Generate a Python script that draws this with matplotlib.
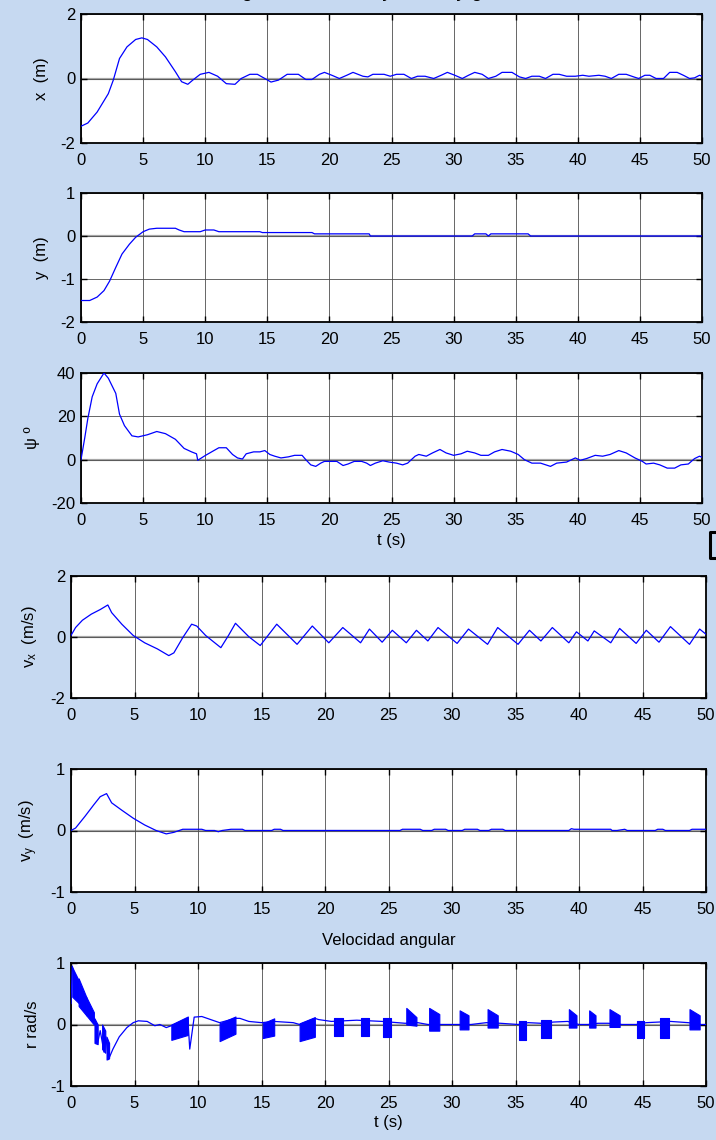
import matplotlib
matplotlib.use("Agg")
import matplotlib.pyplot as plt
from matplotlib.lines import Line2D

plt.rcParams['font.family'] = ['Liberation Sans', 'DejaVu Sans']
plt.rcParams['font.size'] = 11
plt.rcParams['axes.unicode_minus'] = False

# ---- data ----
# x (m)
x_t = [0, 0.55, 1.3, 2.2, 2.6, 3.1, 3.7, 4.4, 4.9, 5.35, 6.1, 6.8, 7.6, 8.1, 8.6, 9.0, 9.6,
       10.3, 11.0, 11.7, 12.4, 12.9, 13.6, 14.2, 14.8, 15.3, 15.9, 16.6, 17.5, 18.1, 18.6,
       19.2, 19.6, 20.2, 20.8, 21.4, 21.9, 22.7, 23.1, 23.5, 24.4, 24.9, 25.4, 26.0, 26.6,
       27.1, 27.7, 28.4, 29.0, 29.5, 30.1, 30.7, 31.2, 31.7, 32.3, 32.8, 33.4, 33.9, 34.7,
       35.3, 35.8, 36.3, 36.9, 37.4, 38.0, 38.5, 39.1, 39.8, 40.4, 40.9, 41.7, 42.2, 42.7,
       43.3, 43.9, 44.5, 44.9, 45.4, 45.8, 46.3, 46.9, 47.4, 48.0, 48.5, 49.0, 49.4, 49.8, 50]
x_v = [-1.48, -1.38, -1.04, -0.47, -0.05, 0.62, 0.98, 1.21, 1.26, 1.21, 0.98, 0.67, 0.21,
       -0.10, -0.18, -0.05, 0.13, 0.19, 0.07, -0.16, -0.18, 0.0, 0.13, 0.13, 0.0, -0.11,
       -0.05, 0.13, 0.13, -0.03, -0.03, 0.13, 0.19, 0.10, 0.0, 0.10, 0.19, 0.07, 0.05, 0.13,
       0.13, 0.07, 0.13, 0.13, 0.0, 0.07, 0.07, 0.0, 0.10, 0.19, 0.10, 0.0, 0.10, 0.19, 0.13,
       0.0, 0.07, 0.19, 0.19, 0.05, 0.0, 0.07, 0.07, 0.0, 0.13, 0.13, 0.07, 0.07, 0.10, 0.07,
       0.10, 0.07, 0.0, 0.13, 0.13, 0.05, 0.0, 0.10, 0.10, 0.0, 0.0, 0.19, 0.19, 0.10, 0.0,
       0.02, 0.10, 0.07]

# y (m)
y_t = [0, 0.7, 1.3, 1.85, 2.3, 2.8, 3.3, 3.9, 4.4, 5.0, 5.5, 6.1, 7.6, 7.9, 8.3, 9.6, 10.0,
       10.7, 11.1, 14.4, 14.6, 18.6, 18.8, 23.2, 23.3, 31.5, 31.7, 32.6, 32.8, 33.0, 36.0,
       36.2, 50]
y_v = [-1.5, -1.5, -1.42, -1.27, -1.05, -0.73, -0.42, -0.19, -0.03, 0.10, 0.16, 0.18, 0.18,
       0.14, 0.10, 0.10, 0.14, 0.14, 0.10, 0.10, 0.08, 0.08, 0.05, 0.05, 0.0, 0.0, 0.05, 0.05,
       0.0, 0.05, 0.05, 0.0, 0.0]

# psi (grados)
psi_t = [0, 0.3, 0.55, 0.9, 1.3, 1.85, 2.2, 2.8, 3.1, 3.5, 4.1, 4.6, 5.35, 6.1, 6.8, 7.6, 8.3,
         8.9, 9.3, 9.4, 10.0, 10.7, 11.1, 11.7, 12.2, 12.6, 13.0, 13.3, 13.9, 14.4, 14.8,
         15.2, 15.6, 16.1, 16.7, 17.2, 17.8, 18.1, 18.5, 18.9, 19.3, 19.6, 20.6, 21.1, 21.5,
         22.0, 22.6, 23.0, 23.3, 23.7, 24.3, 24.8, 25.4, 25.9, 26.3, 26.9, 27.2, 27.8, 28.3,
         28.9, 29.4, 30.0, 30.6, 31.1, 31.7, 32.2, 32.8, 33.3, 33.9, 34.6, 35.2, 35.7, 36.3,
         37.0, 37.8, 38.3, 39.1, 39.8, 40.2, 40.7, 41.4, 42.0, 42.6, 43.3, 43.9, 44.6, 45.2,
         45.5, 46.1, 46.6, 47.2, 47.8, 48.3, 48.9, 49.4, 49.8, 50]
psi_v = [0, 10, 19, 29, 35, 40, 37.6, 30.6, 21, 15.7, 11, 10.5, 11.5, 13, 12, 9.4, 5.2, 3.6,
         2.7, -0.3, 1.9, 4.2, 5.5, 5.5, 2.4, 0.8, 0.3, 2.7, 3.6, 3.6, 4.2, 2.4, 1.6, 0.8, 1.3,
         2.0, 2.0, 0, -2.4, -3.1, -1.6, -0.8, -0.8, -2.7, -2.0, -0.8, -0.8, -1.6, -2.7, -1.6,
         -0.5, -1.1, -1.6, -2.4, -1.6, 1.6, 2.4, 1.6, 3.1, 4.7, 3.1, 2.0, 2.7, 3.9, 3.1, 2.0,
         2.0, 3.6, 4.7, 3.9, 2.4, 0, -1.6, -1.6, -3.1, -1.6, -1.1, 0.8, -0.3, 0.5, 2.0, 1.6,
         2.4, 4.2, 3.1, 0.8, -0.8, -2.0, -1.6, -2.4, -3.9, -3.9, -2.4, -2.0, 0.5, 1.6, 1.1]

# v_x (m/s)
vx_t = [0, 0.36, 0.9, 1.6, 2.3, 2.9, 3.2, 4.0, 4.9, 5.8, 6.8, 7.7, 8.1, 8.8, 9.5, 9.9, 10.6,
        11.8, 12.4, 12.95, 14.0, 14.9, 16.2, 17.8, 19.0, 20.3, 21.4, 22.8, 23.5, 24.5, 25.3,
        26.4, 27.2, 28.1, 28.9, 30.4, 31.3, 32.8, 33.6, 35.2, 36.1, 37.0, 37.9, 39.2, 39.8,
        40.7, 41.2, 42.5, 43.2, 44.5, 45.3, 46.3, 47.2, 48.7, 49.5, 50]
vx_v = [0.05, 0.31, 0.55, 0.75, 0.90, 1.05, 0.80, 0.42, 0.05, -0.19, -0.39, -0.61, -0.52,
        -0.02, 0.42, 0.36, 0.05, -0.35, 0.05, 0.45, 0.01, -0.28, 0.42, -0.24, 0.36, -0.19,
        0.31, -0.19, 0.26, -0.17, 0.22, -0.19, 0.22, -0.13, 0.31, -0.21, 0.26, -0.24, 0.31,
        -0.24, 0.22, -0.13, 0.31, -0.19, 0.17, -0.13, 0.20, -0.19, 0.28, -0.21, 0.22, -0.17,
        0.34, -0.24, 0.26, 0.09]

# v_y (m/s)
vy_t = [0, 0.36, 1.1, 1.8, 2.3, 2.8, 3.2, 4.0, 4.9, 5.8, 6.7, 7.5, 8.1, 8.8, 10.3, 10.6, 11.3,
        11.6, 11.9, 12.6, 13.5, 13.7, 15.8, 16.0, 16.5, 16.7, 25.9, 26.1, 27.5, 27.7, 28.4,
        28.6, 29.5, 29.7, 30.8, 31.0, 32.0, 32.2, 32.9, 33.1, 34.0, 34.2, 39.2, 39.4, 39.6,
        42.5, 42.6, 43.0, 43.6, 43.8, 46.0, 46.2, 46.6, 46.8, 48.7, 48.9, 50]
vy_v = [0, 0.04, 0.23, 0.42, 0.55, 0.60, 0.45, 0.33, 0.20, 0.09, 0.0, -0.055, -0.03, 0.02,
        0.02, 0.0, 0.0, -0.02, 0.0, 0.02, 0.02, 0.0, 0.0, 0.02, 0.02, 0.0, 0.0, 0.02, 0.02,
        0.0, 0.0, 0.02, 0.02, 0.0, 0.0, 0.02, 0.02, 0.0, 0.0, 0.02, 0.02, 0.0, 0.0, 0.03,
        0.02, 0.02, 0.0, 0.0, 0.02, 0.0, 0.0, 0.02, 0.02, 0.0, 0.0, 0.02, 0.02]

# r (rad/s) - linea base
r_t = [0, 0.1, 0.5, 1.0, 1.5, 1.9, 2.1, 2.3, 2.6, 2.75, 2.95, 3.3, 3.8, 4.4, 4.9, 5.3, 6.0,
       6.6, 7.0, 7.5, 7.9, 9.2, 9.35, 9.7, 10.3, 11.0, 11.7, 12.95, 13.3, 14.0, 15.0, 16.0,
       17.5, 18.0, 19.2, 19.5, 20.5, 21.5, 22.5, 24.5, 26.3, 27.3, 28.1, 29.2, 30.5, 31.5,
       32.7, 33.8, 35.2, 36.0, 37.0, 38.0, 39.1, 40.0, 40.7, 41.5, 42.3, 43.4, 44.5, 45.3,
       46.3, 47.2, 48.6, 49.6, 50]
r_v = [0.34, 0.95, 0.6, 0.5, 0.3, 0.05, -0.3, -0.1, -0.45, -0.2, -0.57, -0.4, -0.2, -0.05,
       0.03, 0.06, 0.05, -0.02, 0.0, -0.05, -0.02, 0.10, -0.4, 0.12, 0.13, 0.08, 0.03, 0.10,
       0.10, 0.05, 0.03, 0.05, 0.03, 0.0, 0.10, 0.08, 0.05, 0.06, 0.07, 0.05, 0.02, 0.03, 0.0,
       0.0, 0.0, 0.0, 0.03, 0.02, 0.0, 0.03, 0.02, 0.04, 0.05, 0.0, 0.0, 0.02, 0.02, 0.0, 0.0,
       0.03, 0.04, 0.05, 0.03, 0.0, 0.0]

# r (rad/s) - tramos con oscilacion rapida (inicio, fin, max ini, max fin, min ini, min fin)
burst_t0 = [0.1, 0.6, 1.2, 1.85, 2.45, 2.8, 7.9, 11.7, 15.1, 18.0, 20.7, 22.8, 24.6, 26.4,
            28.2, 30.6, 32.8, 35.3, 37.0, 39.2, 40.8, 42.4, 44.6, 46.4, 48.7]
burst_t1 = [0.6, 1.2, 1.8, 2.1, 2.7, 3.0, 9.2, 12.95, 16.0, 19.2, 21.4, 23.5, 25.2, 27.2,
            29.0, 31.3, 33.6, 35.8, 37.8, 39.8, 41.3, 43.2, 45.1, 47.1, 49.5]
burst_hi0 = [0.93, 0.75, 0.45, 0.1, 0.0, -0.2, 0.0, 0.02, 0.02, 0.02, 0.10, 0.10, 0.10, 0.27,
             0.27, 0.23, 0.25, 0.05, 0.08, 0.25, 0.23, 0.25, 0.05, 0.10, 0.25]
burst_hi1 = [0.72, 0.45, 0.2, 0.0, -0.1, -0.3, 0.13, 0.13, 0.10, 0.12, 0.10, 0.10, 0.10, 0.12,
             0.17, 0.15, 0.15, 0.05, 0.08, 0.15, 0.15, 0.15, 0.05, 0.10, 0.15]
burst_lo0 = [0.45, 0.3, 0.15, -0.3, -0.4, -0.57, -0.25, -0.27, -0.22, -0.27, -0.18, -0.18,
             -0.2, 0.0, -0.1, -0.08, -0.05, -0.25, -0.22, -0.05, -0.05, -0.04, -0.22, -0.22,
             -0.08]
burst_lo1 = [0.35, 0.15, 0.0, -0.32, -0.46, -0.55, -0.17, -0.15, -0.18, -0.2, -0.18, -0.18,
             -0.2, -0.02, -0.1, -0.08, -0.05, -0.25, -0.22, -0.05, -0.05, -0.04, -0.22, -0.22,
             -0.08]

xticks = [0, 5, 10, 15, 20, 25, 30, 35, 40, 45, 50]

# ---- figure ----
W, H = 716, 1140
fig = plt.figure(figsize=(W / 100, H / 100), dpi=100)
fig.patch.set_facecolor('#c6d9f1')

# axes boxes in pixels: left, top, right, bottom
boxes = [(81, 14, 702, 143), (81, 193, 702, 322), (81, 373, 702, 503),
         (71, 576, 706, 698), (71, 769, 706, 892), (71, 963, 706, 1086)]
axes = []
for l, t, r, b in boxes:
    ax = fig.add_axes([l / W, 1 - b / H, (r - l) / W, (b - t) / H])
    axes.append(ax)

series = [(x_t, x_v), (y_t, y_v), (psi_t, psi_v), (vx_t, vx_v), (vy_t, vy_v), (r_t, r_v)]
ylims = [(-2, 2), (-2, 1), (-20, 40), (-2, 2), (-1, 1), (-1, 1)]
yticks = [[-2, 0, 2], [-2, -1, 0, 1], [-20, 0, 20, 40], [-2, 0, 2], [-1, 0, 1], [-1, 0, 1]]
ylabels = ['x  (m)', 'y  (m)', 'ψ º', r'$\mathregular{v_x}$  (m/s)',
           r'$\mathregular{v_y}$  (m/s)', 'r rad/s']

for i, ax in enumerate(axes):
    ax.set_facecolor('white')
    ax.axhline(0, color='#a6a6a6', lw=1.6, zorder=1)
    t, v = series[i]
    ax.plot(t, v, color='#0000ff', lw=0.9, zorder=3)
    ax.set_xlim(0, 50)
    ax.set_ylim(*ylims[i])
    ax.set_xticks(xticks)
    ax.set_yticks(yticks[i])
    ax.set_ylabel(ylabels[i], fontsize=12, labelpad=8)
    ax.grid(True, color='#4d4d4d', lw=0.6, zorder=0)
    ax.tick_params(direction='in', top=True, right=True, length=4, width=1,
                   labelsize=12)
    ax.tick_params(axis='x', pad=7)
    ax.tick_params(axis='y', pad=4)
    for s in ax.spines.values():
        s.set_linewidth(1.3)

# chattering of r
for k in range(len(burst_t0)):
    axes[5].fill_between([burst_t0[k], burst_t1[k]], [burst_lo0[k], burst_lo1[k]],
                         [burst_hi0[k], burst_hi1[k]], color='#0000ff', lw=0.8, zorder=3)

axes[2].set_xlabel('t (s)', fontsize=12, labelpad=4)
axes[5].set_xlabel('t (s)', fontsize=12, labelpad=3)
axes[5].set_title('Velocidad angular', fontsize=12, pad=13)

# title of the original figure, cut by the top edge
fig.text(380 / W, 1 + 3 / H, 'Seguimiento de trayectoria y guiñada', ha='center',
         va='baseline', fontsize=14)

# bracket from the original document at right edge
fig.add_artist(Line2D([716 / W, 710 / W, 710 / W, 716 / W],
                      [1 - 532 / H, 1 - 532 / H, 1 - 558 / H, 1 - 558 / H],
                      color='black', lw=2.2))

fig.savefig('out.png', dpi=100, facecolor=fig.get_facecolor())
